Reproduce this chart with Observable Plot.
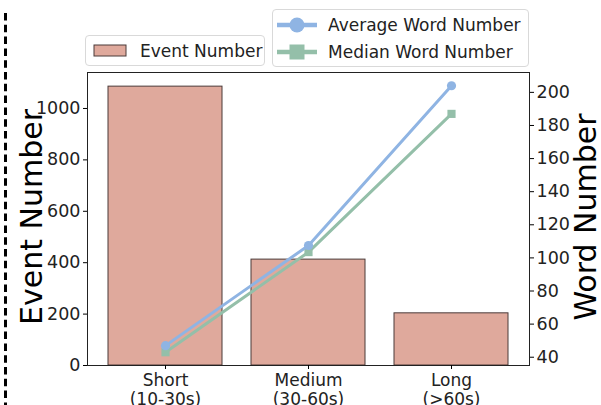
<!DOCTYPE html>
<html>
<head>
<meta charset="utf-8">
<script src="https://cdn.jsdelivr.net/npm/d3@7"></script>
<script src="https://cdn.jsdelivr.net/npm/@observablehq/plot@0.6"></script>
<style>
  html, body { margin: 0; padding: 0; background: #fff; }
  #wrap { position: relative; width: 601px; height: 405px; overflow: hidden; font-family: "DejaVu Sans", sans-serif; }
  #chart { position: absolute; left: 0; top: 0; }
  .legend { position: absolute; background: #fff; border: 1px solid #d9d9d9; border-radius: 4px; box-sizing: border-box; color: #222; font-size: 17px; }
  .legend .row { position: absolute; left: 0; display: flex; align-items: center; }
  .legend svg { display: block; }
  #divider { position: absolute; left: 0; top: 0; }
</style>
</head>
<body>
<div id="wrap">
  <div id="chart"></div>
  <svg id="divider" width="12" height="405"><line x1="5.5" x2="5.5" y1="13" y2="405" stroke="#000" stroke-width="3" stroke-dasharray="7.5 4.3"/></svg>
  <div class="legend" id="legBar" style="left:85px; top:35px; width:180px; height:31px;">
    <div class="row" style="top:0; height:29px; left:7px;">
      <svg width="34" height="13"><rect x="1" y="1" width="32" height="11" fill="#dfa99c" stroke="#4a3a38" stroke-width="1"/></svg>
      <span style="margin-left:13px;">Event Number</span>
    </div>
  </div>
  <div class="legend" id="legLine" style="left:272px; top:9px; width:257px; height:58px;">
    <div class="row" style="top:2px; height:26px; left:3px;">
      <svg width="42" height="18"><line x1="1" x2="41" y1="9" y2="9" stroke="#8fb4e3" stroke-width="4.5"/><circle cx="21" cy="9" r="7.5" fill="#8fb4e3"/></svg>
      <span style="margin-left:10px;">Average Word Number</span>
    </div>
    <div class="row" style="top:29px; height:26px; left:3px;">
      <svg width="42" height="18"><line x1="1" x2="41" y1="9" y2="9" stroke="#94bfa9" stroke-width="4.5"/><rect x="13.5" y="1.5" width="15" height="15" fill="#94bfa9"/></svg>
      <span style="margin-left:10px;">Median Word Number</span>
    </div>
  </div>
</div>
<script>
// Video length groups and their per-group statistics
const categories = ["Short", "Medium", "Long"];
const durations = ["(10-30s)", "(30-60s)", "(>60s)"];
const eventCounts = [1085, 412, 203];
const avgWords = [47, 107.5, 204];
const medianWords = [43, 103.5, 187];

// Axis ticks
const eventTicks = [0, 200, 400, 600, 800, 1000];
const wordTicks = [40, 60, 80, 100, 120, 140, 160, 180, 200];

const eventDomain = [0, 1140];
const wordDomain = [35, 212];

// Word counts share the plot area through a secondary (right-hand) axis
const wordToEvent = d3.scaleLinear().domain(wordDomain).range(eventDomain);

const rows = categories.map((c, i) => ({
  category: c,
  duration: durations[i],
  events: eventCounts[i],
  avg: avgWords[i],
  median: medianWords[i]
}));

const blue = "#8fb4e3";
const green = "#94bfa9";

const chart = Plot.plot({
  width: 601,
  height: 405,
  marginLeft: 87,
  marginRight: 72,
  marginTop: 72,
  marginBottom: 40,
  style: { fontFamily: "DejaVu Sans, sans-serif", background: "transparent" },
  x: { type: "band", domain: categories, paddingInner: 0.2, paddingOuter: 0.14 },
  y: { domain: eventDomain },
  marks: [
    Plot.barY(rows, { x: "category", y: "events", fill: "#dfa99c", stroke: "#4a3a38", strokeWidth: 1 }),
    Plot.line(rows, { x: "category", y: d => wordToEvent(d.median), stroke: green, strokeWidth: 3 }),
    Plot.dot(rows, { x: "category", y: d => wordToEvent(d.median), symbol: "square", r: 4.6, fill: green }),
    Plot.line(rows, { x: "category", y: d => wordToEvent(d.avg), stroke: blue, strokeWidth: 3 }),
    Plot.dot(rows, { x: "category", y: d => wordToEvent(d.avg), r: 4.6, fill: blue }),
    Plot.frame({ stroke: "#222", strokeWidth: 1 }),
    Plot.axisY(eventTicks, {
      anchor: "left", tickSize: 4, tickPadding: 3, fontSize: 17.5, fill: "#222", label: null,
      tickFormat: d => String(d)
    }),
    Plot.axisY(wordTicks.map(w => wordToEvent(w)), {
      anchor: "right", tickSize: 4, tickPadding: 3, fontSize: 17.5, fill: "#222", label: null,
      tickFormat: d => String(Math.round(wordToEvent.invert(d)))
    }),
    Plot.axisX({
      tickSize: 4, tickPadding: 3, fontSize: 17, fill: "#222", label: null, lineHeight: 1.12,
      tickFormat: d => d + "\n" + durations[categories.indexOf(d)]
    }),
    Plot.text(["Event Number"], { frameAnchor: "left", textAnchor: "middle", dx: -55, dy: -2, rotate: -90, fontSize: 30, fill: "#000" }),
    Plot.text(["Word Number"], { frameAnchor: "right", textAnchor: "middle", dx: 57, dy: -2, rotate: -90, fontSize: 30, fill: "#000" })
  ]
});

document.getElementById("chart").appendChild(chart);
</script>
</body>
</html>
